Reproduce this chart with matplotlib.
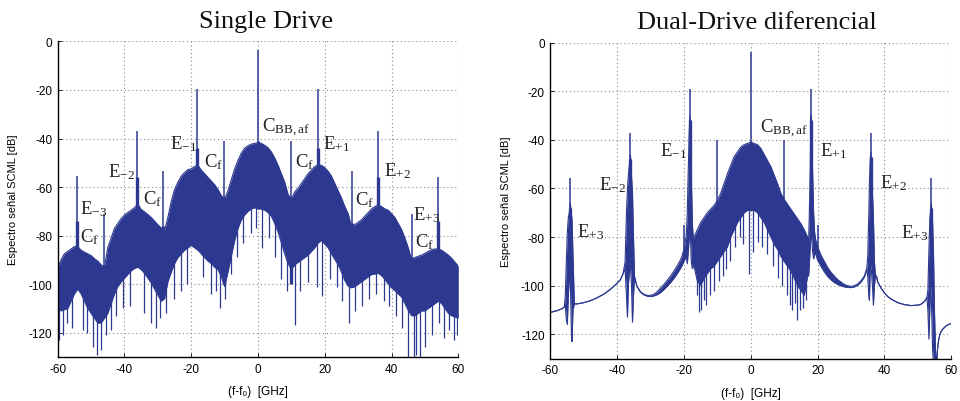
"""
SCML spectrum: Single Drive vs Dual-Drive diferencial
===============================================================================
Dense spectra are drawn as a filled band between the upper and lower envelope
read off the original figure, plus the discrete tones (spikes) and the deepest
downward excursions of the noisy floor.
"""

import numpy as np
import matplotlib
matplotlib.use("Agg")
import matplotlib.pyplot as plt

BLUE = "#2d3991"
GRID = "#8a8a8a"

plt.rcParams["axes.unicode_minus"] = False
plt.rcParams["mathtext.fontset"] = "custom"
plt.rcParams["mathtext.rm"] = "Liberation Serif"
plt.rcParams["mathtext.it"] = "Liberation Serif:italic"
plt.rcParams["mathtext.sf"] = "Liberation Sans"

# ---------------------------------------------------------------------------
# Single Drive: envelopes sampled every 1 GHz from -60 to 60 GHz
# ---------------------------------------------------------------------------
SD_FREQ = list(range(-60, 61))
SD_UPPER = [
    -93, -90, -87.5, -86.5, -85.5, -84.5, -84.5, -86, -86.8, -87.5,      # -60..-51
    -88.2, -89.5, -90.5, -92, -93, -85, -81, -77, -75, -73,              # -50..-41
    -71.5, -70.5, -69.5, -68.5, -67, -69.2, -70.2, -71.3, -72.5, -74,    # -40..-31
    -75.5, -76.8, -78, -72.5, -66, -61, -58, -55.5, -54, -52.8,          # -30..-21
    -52.5, -51.5, -51, -53, -54.5, -56, -57.5, -59, -61, -63.5,          # -20..-11
    -65, -61.5, -57, -52.5, -49, -46, -44, -43, -42.3, -42,              # -10..-1
    -41.8,                                                               # 0
    -42, -42.8, -43.8, -45.5, -48, -51, -54.5, -58, -63, -65,            # 1..10
    -62, -60.5, -58.5, -56.5, -54.5, -53, -51.5, -51, -51, -52,          # 11..20
    -53.5, -55.5, -58.5, -61.5, -64.5, -68, -71, -76.5, -75.5, -74.5,    # 21..30
    -73.5, -72, -70.5, -69, -68, -67.5, -68, -69, -69.5, -71,            # 31..40
    -72.5, -75, -77.5, -81, -85, -90, -89, -88.5, -88, -87.3,            # 41..50
    -86.5, -85.8, -85.5, -85.5, -86, -87, -88, -89.3, -91, -92.5,        # 51..60
]
SD_LOWER = [
    -110, -111, -110.5, -110, -107, -104, -102, -104, -107, -110,        # -60..-51
    -112, -114, -116, -116, -114, -112, -108, -104, -101, -99,           # -50..-41
    -97.5, -96, -94.5, -93.5, -93, -94, -95.5, -97.5, -99.5, -102,       # -40..-31
    -104.5, -107, -106, -99, -95, -91.5, -89, -87.5, -86, -85,           # -30..-21
    -84, -85, -86, -87.5, -89, -90.5, -91.5, -93, -94, -97,              # -20..-11
    -101, -95, -88.5, -82, -77, -73.5, -71.5, -70, -69, -68.5,           # -10..-1
    -69,                                                                 # 0
    -69, -69.5, -70.5, -72, -75, -78.5, -83, -87.5, -91.5, -94,          # 1..10
    -92, -91, -90, -89, -88, -86.5, -85, -83, -82, -83.5,                # 11..20
    -85, -87.5, -89.8, -92, -95, -98.5, -100.8, -101.5, -101, -100,      # 21..30
    -99, -98, -97, -96, -95.8, -95.5, -96.5, -98, -100, -101.5,          # 31..40
    -102.6, -104, -105.3, -108, -110.8, -113, -113, -112, -111, -111,    # 41..50
    -110, -109, -108, -107, -108, -110, -112, -113, -113.5, -114,        # 51..60
]
# discrete tones: frequency, foot, skirt top, peak  [dB]
SD_TONE_F = [-54.2, -46.1, -36.2, -28.4, -18.2, -10.2, 0.0, 9.9, 17.9, 28.3, 36.0, 46.0, 54.0]
SD_TONE_FOOT = [-98, -100, -93, -104, -82, -100, -68, -100, -82, -100, -95, -110, -105]
SD_TONE_SKIRT = [-74, -92, -56, -76, -44, -64, -41, -64, -44, -75, -56, -89, -74]
SD_TONE_PEAK = [-55.5, -71, -37, -53.3, -19.5, -41, -3.4, -41, -19.5, -53.3, -37, -71, -56]
# deepest downward excursions of the noise floor
SD_DIP_F = [-59.6, -58.5, -57.2, -55.6, -52.5, -51.1, -49.5, -48.2, -47.1, -45.6,
            -44.1, -42.6, -40.5, -38.4, -34.2, -32.1, -30.6, -29.3, -27.6, -25.2,
            -23.1, -21.2, -16.6, -14.1, -12.6, -11.4, -9.8, -8.1, -6.2, -4.4,
            -2.1, -0.5, 1.1, 3.2, 5.1, 7.0, 8.6, 11.1, 12.6, 15.1,
            17.6, 19.2, 21.6, 23.6, 25.1, 27.4, 29.1, 31.2, 33.1, 35.2,
            37.6, 39.1, 41.2, 43.1, 45.0, 46.6, 47.4, 48.6, 50.1, 52.1,
            54.3, 55.6, 57.1, 58.6, 59.6]
SD_DIP_DB = [-123, -121, -116, -118, -119, -120, -126, -129, -127, -121,
             -119, -113, -110, -109, -112, -116, -118, -114, -112, -106,
             -103, -100, -97, -104, -103, -110, -106, -96, -89, -83,
             -79, -77, -85, -81, -89, -98, -103, -117, -103, -99,
             -101, -105, -98, -101, -107, -116, -111, -109, -106, -104,
             -107, -109, -113, -118, -131, -131, -129, -131, -126, -121,
             -116, -122, -119, -123, -121]

# ---------------------------------------------------------------------------
# Dual-Drive diferencial: non-uniform grid, finer around each sideband
# ---------------------------------------------------------------------------
DD_FREQ = [
    -60, -58, -56.5, -55.8,
    -55.5, -55.2, -54.9, -54.6, -54.3, -54.0, -53.7, -53.5, -53.2, -52.8,
    -52, -50, -48, -46, -44, -42, -40, -39, -38.2,
    -37.6, -37.2, -36.9, -36.6, -36.3, -36.0, -35.7, -35.4, -35.1, -34.8,
    -34.4, -34, -33, -32, -31, -30, -29, -28, -27, -26, -25, -24, -23, -22, -21, -20.5, -20, -19.6,
    -19.3, -19.0, -18.7, -18.4, -18.2, -18.0, -17.8, -17.5, -17.2,
    -17, -16, -15, -14, -13, -12, -11, -10, -9, -8, -7, -6, -5, -4, -3, -2, -1,
    0, 1, 2, 3, 4, 5, 6, 7, 8, 9, 10, 11, 12, 13, 14, 15, 16, 17,
    17.3, 17.5, 17.8, 18.0, 18.2, 18.5, 18.8, 19.1, 19.4,
    19.7, 20, 21, 22, 23, 24, 25, 26, 27, 28, 29, 30, 31, 32, 33, 34, 34.7,
    35.0, 35.3, 35.5, 35.7, 35.9, 36.1, 36.4, 36.7, 37.0, 37.3,
    37.6, 38, 39, 40, 41, 42, 44, 46, 48, 50, 51, 52, 52.7,
    53.0, 53.3, 53.6, 53.8, 54.0, 54.2, 54.4, 54.7, 55.0, 55.3,
    55.6, 55.9, 56.2, 56.6, 57.0, 57.5, 58.5, 60,
]
DD_UPPER = [
    -111, -110.3, -109.5, -108.8,
    -104, -90, -78, -72, -70, -66, -70, -73, -88, -107.5,
    -107.5, -107, -106.2, -105, -103.5, -101.5, -99, -97.5, -95,
    -90, -70, -60, -54, -50, -46, -55, -62, -80, -96,
    -98.5, -100.3, -102.5, -103.5, -104, -104, -103.5, -102.5, -101, -99.5, -97.8, -96, -94, -91.8, -89.3, -87.5, -85, -82,
    -79, -70, -52, -36, -30, -38, -55, -74, -81,
    -80, -77, -74, -72, -70, -68.5, -67, -65, -62, -58, -54, -50.5, -47, -45, -43, -42, -41.5,
    -41, -41.5, -42, -43.5, -46, -48.5, -51, -54.5, -58, -62, -64.5, -66.5, -68.5, -70.5, -72.5, -74.5, -77, -80,
    -82, -72, -52, -30, -36, -54, -70, -78, -81,
    -82.5, -84, -87.5, -90, -92.5, -94.5, -96, -97.5, -98.5, -99.5, -100, -100.3, -100, -99.3, -98, -96, -93,
    -88, -72, -58, -50, -45, -52, -62, -72, -90, -96,
    -96, -98.5, -101, -103, -104.5, -105.5, -107, -107.8, -108.2, -108, -107.6, -106.5, -104.8,
    -102, -86, -72, -70, -66, -69, -74, -88, -112, -127,
    -133, -126, -122.5, -120, -118.8, -117.8, -116.5, -115.5,
]
DD_LOWER = [
    -111, -110.3, -109.5, -108.8,
    -108, -114, -116, -104, -97, -98, -118, -123, -110, -107.5,
    -107.5, -107, -106.2, -105, -103.5, -101.5, -99, -97.5, -95,
    -93, -104, -113, -99, -94, -92, -100, -115, -104, -97,
    -98.5, -100.5, -102.7, -103.8, -104.3, -104.5, -104.2, -103.7, -102.8, -101.6, -100.2, -98.7, -97, -95, -92.8, -91.5, -90, -88.5,
    -88, -91, -86, -80, -78, -82, -90, -93, -92,
    -92, -98, -100, -97, -95, -93, -92, -90, -88, -86, -84, -80, -77, -74, -72, -70, -69,
    -69, -69, -70, -72, -74, -77, -80, -83, -85, -88, -90, -92, -94, -97, -100, -102, -104, -96,
    -96, -92, -84, -78, -80, -86, -89, -87, -87,
    -88, -89.5, -92, -94.3, -96.2, -97.6, -98.7, -99.5, -100.1, -100.5, -100.7, -100.8, -100.5, -99.8, -98.5, -96.5, -93.5,
    -96, -104, -106, -95, -90, -94, -100, -108, -100, -96,
    -96, -98.5, -101, -103, -104.5, -105.5, -107, -107.8, -108.2, -108, -107.6, -106.5, -104.8,
    -110, -122, -108, -100, -104, -114, -126, -133, -133, -133,
    -133, -126, -122.5, -120, -118.8, -117.8, -116.5, -115.5,
]
DD_TONE_F = [-54.0, -36.0, -20.0, -18.2, -10.0, 0.0, 10.0, 18.0, 20.0, 35.9, 54.0]
DD_TONE_FOOT = [-98, -92, -89, -80, -88, -69, -88, -80, -89, -92, -100]
DD_TONE_SKIRT = [-68, -48, -86, -32, -66, -41, -66, -32, -86, -47, -68]
DD_TONE_PEAK = [-55.5, -37, -75, -19, -40, -4, -40, -19, -75, -37, -55.5]
DD_DIP_F = [-16.2, -15.5, -14.8, -14.1, -13.4, -12.2, -11.0, -9.6, -8.4, -7.4,
            -6.1, -4.6, -3.1, -2.2, -0.6, 0.8, 2.1, 3.4, 5.0, 6.6,
            8.1, 9.4, 10.9, 11.6, 12.4, 13.2, 13.9, 14.7, 15.6, 16.4]
DD_DIP_DB = [-104, -111, -110, -106, -108, -104, -102, -98, -96, -93,
             -90, -84, -80, -83, -95, -86, -82, -84, -87, -92,
             -97, -100, -104, -108, -110, -107, -114, -110, -109, -106]

SD_LABELS = [
    (r"E$_{-3}$", -53.3, -68.8), (r"C$_{\rm f}$", -53.3, -80.4),
    (r"E$_{-2}$", -44.8, -53.3), (r"C$_{\rm f}$", -34.5, -64.6),
    (r"E$_{-1}$", -26.5, -42.0), (r"C$_{\rm f}$", -16.3, -49.2),
    (r"C$_{\rm BB,af}$", 1.3, -35.4), (r"C$_{\rm f}$", 11.2, -49.2),
    (r"E$_{+1}$", 19.5, -42.0), (r"E$_{+2}$", 37.7, -52.9),
    (r"C$_{\rm f}$", 29.1, -65.0), (r"E$_{+3}$", 46.3, -71.2),
    (r"C$_{\rm f}$", 47.0, -82.1),
]
DD_LABELS = [
    (r"E$_{+3}$", -52.1, -77.6), (r"E$_{-2}$", -45.3, -58.2),
    (r"E$_{-1}$", -27.2, -44.4), (r"C$_{\rm BB,af}$", 2.7, -35.3),
    (r"E$_{+1}$", 20.7, -44.4), (r"E$_{+2}$", 38.8, -57.5),
    (r"E$_{+3}$", 45.1, -78.0),
]


def draw_spectrum(ax, freq, upper, lower, tones, dips):
    """Filled envelope band + tones + noise-floor dips."""
    ax.fill_between(freq, lower, upper, color=BLUE, lw=0)
    ax.plot(freq, upper, color=BLUE, lw=0.8)
    ax.plot(freq, lower, color=BLUE, lw=0.8)
    f_t, foot, skirt, peak = tones
    ax.vlines(f_t, foot, skirt, color=BLUE, lw=2.4)
    ax.vlines(f_t, foot, peak, color=BLUE, lw=1.1)
    f_d, depth = dips
    start = np.interp(f_d, freq, lower) + 4
    ax.vlines(f_d, depth, start, color=BLUE, lw=0.9)


def style_axes(ax, title, title_x):
    ax.set_xlim(-60, 60)
    ax.set_ylim(-130, 0)
    ax.set_xticks(range(-60, 61, 20))
    ax.set_yticks(range(-120, 1, 20))
    ax.grid(True, linestyle=(0, (1, 2.5)), color=GRID, lw=0.8)
    ax.set_axisbelow(True)
    for side in ("top", "right"):
        ax.spines[side].set_visible(False)
    for side in ("left", "bottom"):
        ax.spines[side].set_linewidth(1.0)
    ax.tick_params(direction="in", length=3, width=0.6, labelsize=8.5, pad=4)
    for lab in ax.get_xticklabels() + ax.get_yticklabels():
        lab.set_fontfamily("Liberation Sans")
    ax.set_ylabel("Espectro señal SCML [dB]", fontsize=8,
                  family=["Liberation Sans", "DejaVu Sans"])
    ax.yaxis.set_label_coords(-0.098, 0.5)
    ax.set_xlabel("(f-f₀)  [GHz]", fontsize=8.5,
                  family=["Liberation Sans", "DejaVu Sans"])
    ax.xaxis.set_label_coords(0.5, -0.09)
    ax.text(title_x, 1.045, title, transform=ax.transAxes, ha="center",
            va="baseline", fontsize=19, family="Liberation Serif", color="#111111")


def main():
    fig = plt.figure(figsize=(9.6, 4.02), dpi=100)
    ax1 = fig.add_axes([0.0601, 0.1095, 0.4173, 0.785])
    ax2 = fig.add_axes([0.5732, 0.1055, 0.4177, 0.786])

    draw_spectrum(ax1, SD_FREQ, SD_UPPER, SD_LOWER,
                  (SD_TONE_F, SD_TONE_FOOT, SD_TONE_SKIRT, SD_TONE_PEAK),
                  (SD_DIP_F, SD_DIP_DB))
    draw_spectrum(ax2, DD_FREQ, DD_UPPER, DD_LOWER,
                  (DD_TONE_F, DD_TONE_FOOT, DD_TONE_SKIRT, DD_TONE_PEAK),
                  (DD_DIP_F, DD_DIP_DB))

    style_axes(ax1, "Single Drive", 0.52)
    style_axes(ax2, "Dual-Drive diferencial", 0.515)

    for ax, labels in ((ax1, SD_LABELS), (ax2, DD_LABELS)):
        for txt, x, y in labels:
            ax.text(x, y, txt, ha="left", va="center", fontsize=13.5,
                    family="Liberation Serif", color="#222222")

    fig.savefig("out.png", dpi=100)


if __name__ == "__main__":
    main()
